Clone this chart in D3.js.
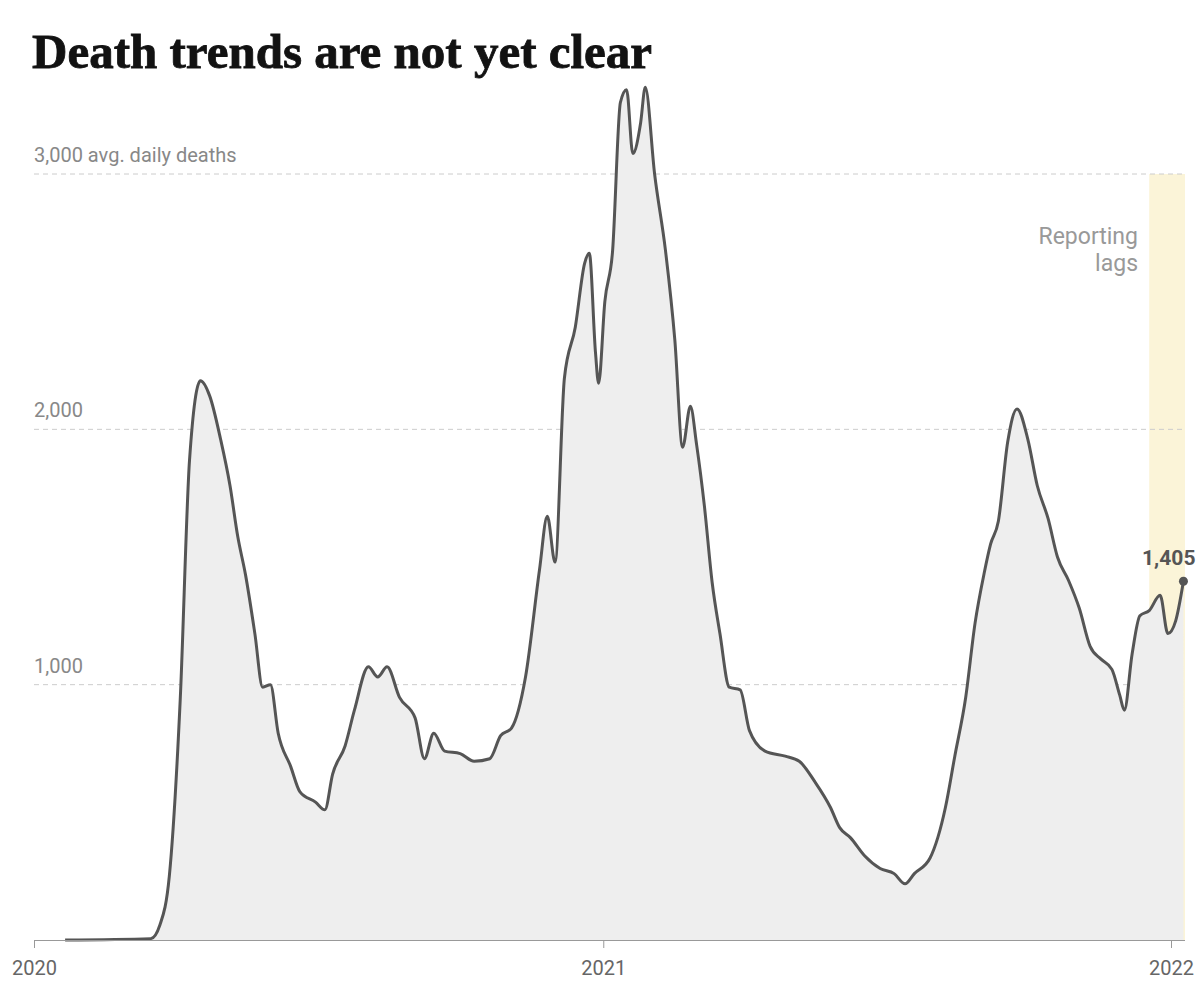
<!DOCTYPE html>
<html><head><meta charset="utf-8">
<script src="https://cdn.jsdelivr.net/npm/d3@7"></script>
<style>body{margin:0;background:#fff}</style>
</head><body><div id="chart"></div>
<script>
const dates = ["2020-01-21","2020-03-16","2020-03-22","2020-03-28","2020-04-04","2020-04-10","2020-04-17","2020-04-23","2020-04-30","2020-05-06","2020-05-11","2020-05-16","2020-05-22","2020-05-27","2020-06-01","2020-06-06","2020-06-14","2020-06-20","2020-06-30","2020-07-06","2020-07-11","2020-07-19","2020-07-25","2020-08-03","2020-08-09","2020-08-15","2020-08-23","2020-09-02","2020-09-08","2020-09-14","2020-09-21","2020-10-01","2020-10-10","2020-10-20","2020-10-27","2020-11-03","2020-11-12","2020-11-21","2020-11-26","2020-12-01","2020-12-07","2020-12-14","2020-12-20","2020-12-23","2020-12-27","2020-12-29","2021-01-02","2021-01-07","2021-01-12","2021-01-16","2021-01-20","2021-01-25","2021-01-28","2021-02-03","2021-02-10","2021-02-16","2021-02-21","2021-02-26","2021-03-02","2021-03-07","2021-03-12","2021-03-17","2021-03-23","2021-03-30","2021-04-05","2021-04-15","2021-04-28","2021-05-07","2021-05-17","2021-05-27","2021-06-02","2021-06-09","2021-06-18","2021-06-28","2021-07-07","2021-07-14","2021-07-20","2021-07-30","2021-08-09","2021-08-15","2021-08-22","2021-08-28","2021-09-03","2021-09-07","2021-09-12","2021-09-18","2021-09-24","2021-10-01","2021-10-07","2021-10-14","2021-10-20","2021-10-27","2021-11-03","2021-11-10","2021-11-17","2021-11-24","2021-11-29","2021-12-02","2021-12-07","2021-12-12","2021-12-18","2021-12-25","2021-12-30","2022-01-04","2022-01-09"];
const deaths = [0,5,60,250,940,1880,2190,2130,1960,1780,1580,1430,1200,990,1000,810,680,580,540,510,650,760,900,1070,1030,1070,950,870,710,810,740,730,700,710,800,830,1030,1450,1660,1480,2200,2400,2650,2690,2300,2180,2500,2700,3280,3330,3080,3200,3340,3000,2700,2350,1930,2090,1940,1700,1400,1200,990,980,820,740,720,700,620,520,440,400,330,280,260,220,260,320,520,720,950,1240,1440,1550,1640,1950,2080,1960,1780,1650,1500,1410,1300,1150,1100,1060,960,900,1120,1270,1290,1350,1200,1250,1405];
const yTicks = [1000, 2000, 3000];
const xTicks = ["2020-01-01","2021-01-01","2022-01-01"];
const lagStart = "2021-12-18", lagEnd = "2022-01-10";

const W = 1200, H = 992;
const parse = d3.timeParse("%Y-%m-%d");
const data = dates.map((d, i) => ({date: parse(d), v: deaths[i]}));
const x = d3.scaleTime().domain([parse("2020-01-01"), parse("2022-01-01")]).range([34, 1171]);
const y = d3.scaleLinear().domain([0, 3000]).range([940, 174]);

const svg = d3.select("#chart").append("svg").attr("width", W).attr("height", H)
  .style("font-family", "Roboto, sans-serif");

svg.append("rect").attr("x", x(parse(lagStart))).attr("y", y(3000))
  .attr("width", x(parse(lagEnd)) - x(parse(lagStart))).attr("height", y(0) - y(3000))
  .attr("fill", "#fbf4d8");

svg.selectAll(".grid").data(yTicks).enter().append("line")
  .attr("x1", 34).attr("x2", 1183).attr("y1", d => y(d)).attr("y2", d => y(d))
  .attr("stroke", "#ccc").attr("stroke-dasharray", "5,4");
svg.selectAll(".ylab").data(yTicks).enter().append("text")
  .attr("x", 34).attr("y", d => y(d) - 12).attr("fill", "#888").attr("font-size", 20)
  .text(d => d3.format(",")(d) + (d === 3000 ? " avg. daily deaths" : ""));

svg.append("path").datum(data).attr("fill", "#eee")
  .attr("d", d3.area().x(d => x(d.date)).y0(y(0)).y1(d => y(d.v)).curve(d3.curveMonotoneX));
svg.append("path").datum(data).attr("fill", "none").attr("stroke", "#555").attr("stroke-width", 3)
  .attr("d", d3.line().x(d => x(d.date)).y(d => y(d.v)).curve(d3.curveMonotoneX));

const last = data[data.length - 1];
svg.append("circle").attr("cx", x(last.date)).attr("cy", y(last.v)).attr("r", 4.5).attr("fill", "#555");
svg.append("text").attr("x", x(last.date) + 12).attr("y", y(last.v) - 16).attr("text-anchor", "end")
  .attr("font-size", 21).attr("font-weight", "bold").attr("fill", "#555").text(d3.format(",")(last.v));

svg.append("text").attr("x", 1138).attr("text-anchor", "end").attr("fill", "#999").attr("font-size", 23)
  .selectAll("tspan").data(["Reporting", "lags"]).enter().append("tspan")
  .attr("x", 1138).attr("y", (d, i) => 244 + i * 27).text(d => d);

const xAxis = svg.append("g").attr("transform", `translate(0,${y(0)})`)
  .call(d3.axisBottom(x).tickValues(xTicks.map(parse)).tickFormat(d3.timeFormat("%Y")).tickSize(8).tickSizeOuter(0));
xAxis.select(".domain").attr("stroke", "#999").attr("d", "M34,0.5H1185");
xAxis.selectAll(".tick line").attr("stroke", "#999");
xAxis.selectAll("text").attr("fill", "#666").attr("font-size", 20).attr("font-family", "Roboto, sans-serif").attr("dy", "1.2em");

svg.append("text").attr("x", 32).attr("y", 68).attr("font-family", "'Liberation Serif', serif")
  .attr("font-weight", "bold").attr("font-size", 49).attr("fill", "#121212")
  .attr("stroke", "#121212").attr("stroke-width", 0.8)
  .text("Death trends are not yet clear");
</script></body></html>
